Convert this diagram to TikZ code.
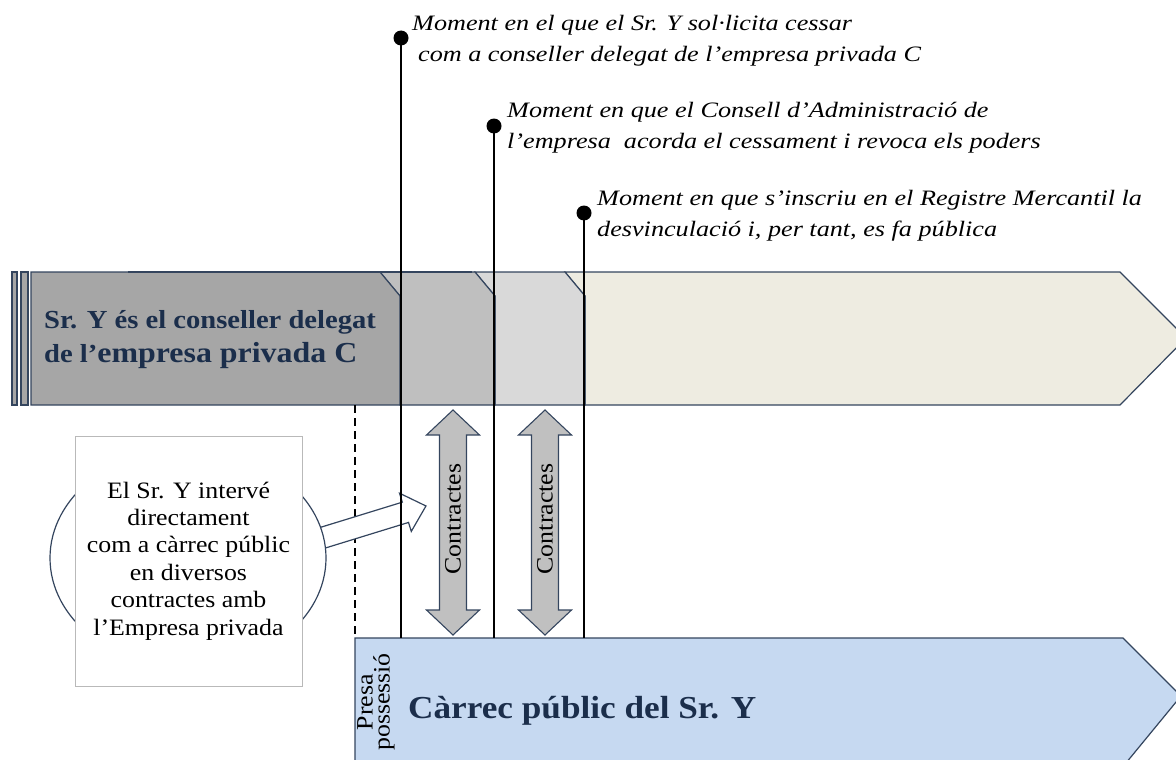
\documentclass[tikz,border=0pt]{standalone}
\usepackage{fontspec}
\setmainfont[FakeStretch=1.1]{Liberation Serif}
\newfontfamily\labfont[FakeStretch=1.19]{Liberation Serif}
\usetikzlibrary{calc,shapes.geometric}
\definecolor{outl}{HTML}{34455E}
\definecolor{navytxt}{HTML}{1B2E4B}
\definecolor{segA}{HTML}{A6A6A6}
\definecolor{segB}{HTML}{BFBFBF}
\definecolor{segC}{HTML}{D9D9D9}
\definecolor{segD}{HTML}{EEECE1}
\definecolor{bandblue}{HTML}{C6D9F1}
\definecolor{contrfill}{HTML}{C0C0C0}
\tikzset{
  seg/.style={draw=outl, line width=1.2pt, line join=miter},
  tline/.style={draw=black, line width=1.6pt},
  tdot/.style={circle, fill=black, inner sep=0pt, minimum size=15pt},
  lab/.style={anchor=north west, inner sep=0pt, align=left, font=\labfont\itshape\fontsize{22}{31}\selectfont},
  contr/.style={draw=outl, fill=contrfill, line width=1.1pt, line join=miter},
  ctext/.style={rotate=90, inner sep=0pt, font=\fontsize{23.5}{26}\selectfont},
  boxtext/.style={align=center, inner sep=0pt, font=\fontsize{23.5}{27.4}\selectfont},
  bandtext/.style={anchor=base west, inner sep=0pt, text=navytxt, font=\bfseries\fontsize{26}{33}\selectfont}
}
\begin{document}
\begin{tikzpicture}[x=1pt,y=1pt]
\useasboundingbox (0,0) rectangle (1176,-760);
\clip (0,0) rectangle (1176,-760);
% top band (chevrons)
\draw[seg, fill=segD] (565,-272) -- (1120,-272) -- (1186,-338) -- (1120,-405) -- (585,-405) -- (585,-296) -- cycle;
\draw[seg, fill=segC] (475,-272) -- (565,-272) -- (585,-296) -- (585,-405) -- (495,-405) -- (495,-296) -- cycle;
\draw[seg, fill=segB] (380,-272) -- (475,-272) -- (495,-296) -- (495,-405) -- (400,-405) -- (400,-296) -- cycle;
\draw[seg, fill=segA] (31,-272) -- (380,-272) -- (400,-296) -- (400,-405) -- (31,-405) -- cycle;
\draw[seg, fill=segA] (12,-272) rectangle (17,-405);
\draw[seg, fill=segA] (21,-272) rectangle (28,-405);
\draw[outl, line width=1.7pt] (128,-271.8) -- (472,-271.8);
% bottom band
\draw[seg, fill=bandblue] (355,-780) -- (355,-638) -- (1123,-638) -- (1181,-696) -- (1112,-780);
% dashed line
\coordinate (dA) at (355,-405);
\coordinate (dB) at (355,-638);
\draw[black, line width=1.5pt, dash pattern=on 8pt off 5pt] (dA) -- (dB);
% contract arrows
\foreach \cx/\nm in {453/ca, 545/cb} {
  \draw[contr] (\cx,-410) -- (\cx+26.5,-435) -- (\cx+13.5,-435) -- (\cx+13.5,-610) -- (\cx+26.5,-610) -- (\cx,-635) -- (\cx-26.5,-610) -- (\cx-13.5,-610) -- (\cx-13.5,-435) -- (\cx-26.5,-435) -- cycle;
  \node[ctext] (\nm) at (\cx,-519) {Contractes};
}
% callout arrow
\begin{scope}[shift={(323.5,-537.5)}, rotate=17.1]
  \draw[draw=outl, fill=white, line width=1.2pt, line join=miter] (-30,10.6) -- (85.7,10.6) -- (85.7,20) -- (107.2,0) -- (85.7,-20) -- (85.7,-10.6) -- (-30,-10.6) -- cycle;
\end{scope}
% ellipse and box
\node[draw=outl, fill=white, line width=1.2pt, ellipse, minimum width=276pt, minimum height=220pt, inner sep=0pt] (ell) at (188,-558) {};
\draw[draw=gray!55, fill=white, line width=0.8pt] (75,-436) rectangle (302,-686);
\node[boxtext] (box) at (188.5,-561) {El Sr. Y intervé\\ directament\\ com a càrrec públic\\ en diversos\\ contractes amb\\ l’Empresa privada};
% timeline
\node[tdot] (p1) at (401,-38) {};
\node[tdot] (p2) at (494,-126) {};
\node[tdot] (p3) at (584,-213) {};
\coordinate (q1) at (401,-638);
\coordinate (q2) at (494,-638);
\coordinate (q3) at (584,-638);
\draw[tline] (p1.center) -- (q1);
\draw[tline] (p2.center) -- (q2);
\draw[tline] (p3.center) -- (q3);
% labels
\node[lab] (l1) at (412,-15) {Moment en el que el Sr. Y sol·licita cessar\\\hspace*{6pt}com a conseller delegat de l’empresa privada C};
\node[lab] (l2) at (507,-102) {Moment en que el Consell d’Administració de\\l’empresa\ \ acorda el cessament i revoca els poders};
\node[lab] (l3) at (597,-190) {Moment en que s’inscriu en el Registre Mercantil la\\desvinculació i, per tant, es fa pública};
% band texts
\node[bandtext] (t1) at (44,-328) {Sr. Y és el conseller delegat};
\node[bandtext] (t2) at (44,-362) {de l’\fontsize{29}{33}\selectfont empresa privada C};
\node[anchor=base west, inner sep=0pt, text=navytxt, font=\bfseries\fontsize{32}{36}\selectfont] (t3) at (408,-718) {Càrrec públic del Sr. Y};
\node[rotate=90, align=center, inner sep=0pt, font=\fontsize{23.5}{17}\selectfont] (t4) at (376,-702) {Presa\\possessió};
\end{tikzpicture}
\end{document}
